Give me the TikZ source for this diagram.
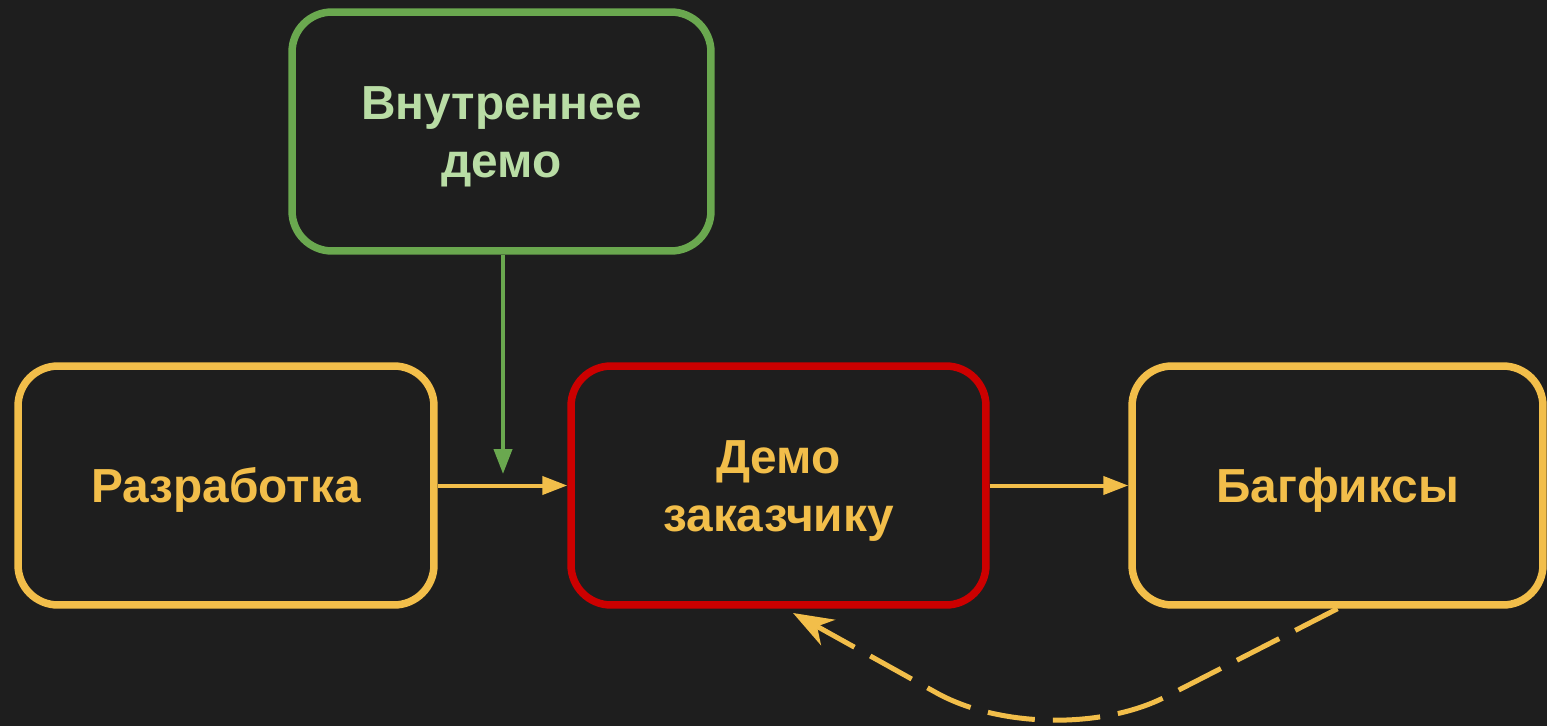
\documentclass[tikz,border=0pt]{standalone}
\usepackage{fontspec}
\setmainfont{Liberation Sans}
\usetikzlibrary{arrows.meta}
\definecolor{bg}{HTML}{1E1E1E}
\definecolor{ylw}{HTML}{F2BE4A}
\definecolor{grn}{HTML}{6AA84F}
\definecolor{grntxt}{HTML}{B9DDA5}
\definecolor{rd}{HTML}{CC0000}
\newcommand{\firststrut}{\rule{0pt}{25pt}}
\begin{document}
\begin{tikzpicture}[x=0.02cm,y=-0.02cm,
  box/.style={draw, rounded corners=0.8cm, line width=0.15cm, minimum height=4.78cm,
    align=center, font=\fontsize{27.2}{32.8}\selectfont\bfseries, inner sep=0pt},
  conn/.style={line width=0.08cm, -{Triangle[length=0.5cm,width=0.36cm]}},
  dconn/.style={line width=0.1cm, dash pattern=on 0.95cm off 0.36cm,
    -{Stealth[length=0.8cm,width=0.58cm,inset=0.25cm]}, rounded corners=2.6cm}]
\fill[bg] (0,0) rectangle (1547,726);
\useasboundingbox (0,0) rectangle (1547,726);
\node[box, draw=grn, text=grntxt, minimum width=8.38cm] (int) at (501.5,131.5) {\firststrut Внутреннее\\демо};
\node[box, draw=ylw, text=ylw, minimum width=8.32cm] (dev) at (226,485.5) {\firststrut Разработка};
\node[box, draw=rd, text=ylw, minimum width=8.3cm] (demo) at (778.5,485.5) {\firststrut Демо\\заказчику};
\node[box, draw=ylw, text=ylw, minimum width=8.22cm] (bug) at (1337.5,485.5) {\firststrut Багфиксы};
\coordinate (gtip) at (503,474);
\coordinate (dtip) at (793,613);
\coordinate (dbend) at (1050,756);
\draw[conn, ylw] (dev) -- (demo);
\draw[conn, ylw] (demo) -- (bug);
\draw[conn, grn] (int.south -| gtip) -- (gtip);
\draw[dconn, ylw] (bug.south) -- (dbend) -- (dtip);
\end{tikzpicture}
\end{document}
